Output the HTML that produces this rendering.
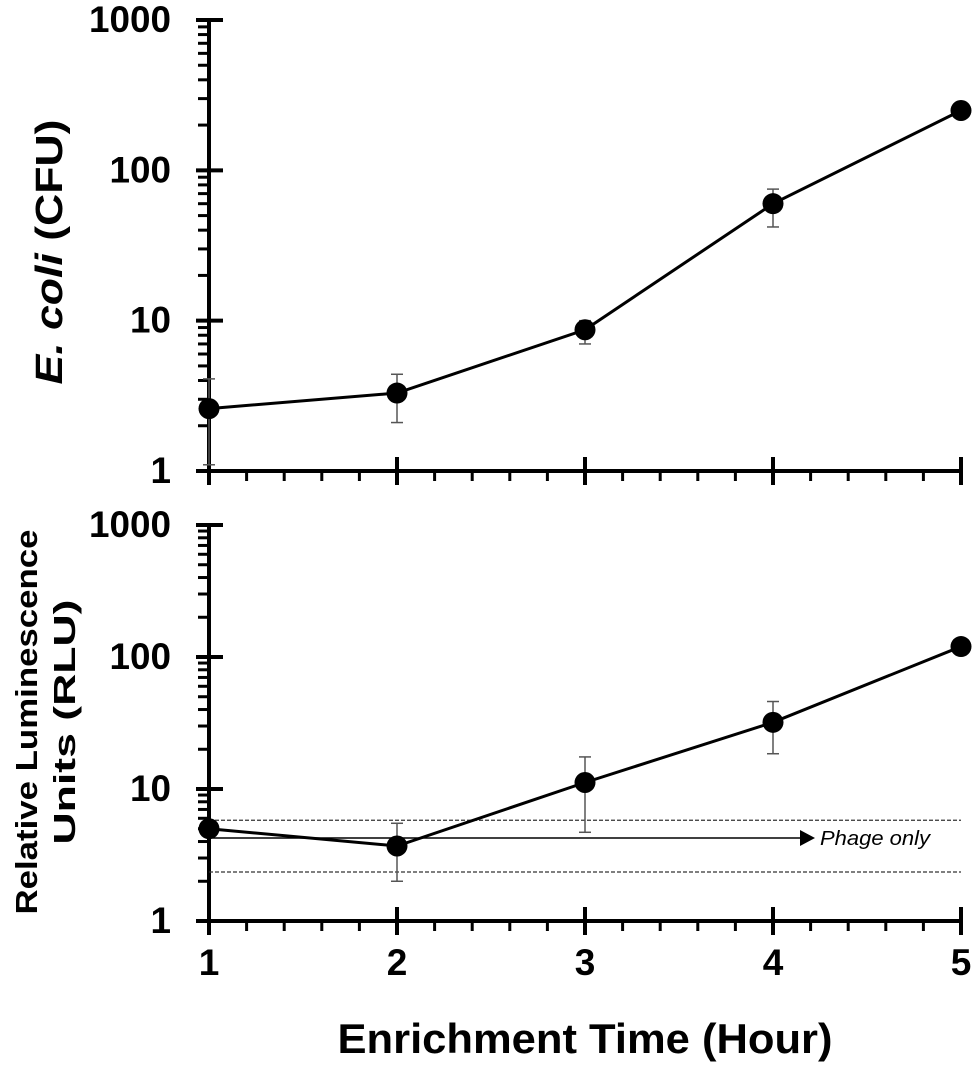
<!DOCTYPE html>
<html><head><meta charset="utf-8"><style>
html,body{margin:0;padding:0;background:#fff;}
svg{display:block;font-family:"Liberation Sans",sans-serif;}
</style></head><body>
<svg id="chart" width="977" height="1065" viewBox="0 0 977 1065" xmlns="http://www.w3.org/2000/svg"></svg>
<script>
const categories = [1, 2, 3, 4, 5];
const ecoliValues = [2.6, 3.3, 8.7, 60, 250];
const ecoliLow = [1.1, 2.1, 7.0, 42, 250];
const ecoliHigh = [4.1, 4.4, 10.0, 75, 250];
const rluValues = [5.0, 3.7, 11.2, 32, 120];
const rluLow = [5.0, 2.0, 4.7, 18.5, 120];
const rluHigh = [5.0, 5.5, 17.5, 46, 120];
const phageMean = [4.25];
const phageBand = [2.35, 5.8];
const yTicks = [1, 10, 100, 1000];
const yTickLabels = ["1", "10", "100", "1000"];
const xTickLabels = ["1", "2", "3", "4", "5"];

const NS = "http://www.w3.org/2000/svg";
const svgEl = document.getElementById('chart');
function mk(tag, attrs, parent) {
  const e = document.createElementNS(NS, tag);
  for (const k in attrs) e.setAttribute(k, attrs[k]);
  (parent || svgEl).appendChild(e);
  return e;
}
const x0 = 209, x1 = 961;
function xs(v) { return x0 + (v - 1) / 4 * (x1 - x0); }
function makeY(bottom, topY) { return v => bottom - Math.log10(v) / 3 * (bottom - topY); }

function panel(name, bottom, topY, showXLabels) {
  const ys = makeY(bottom, topY);
  const g = mk('g', {});
  
  
  const ya = mk('line', {x1: x0, y1: topY - 2, x2: x0, y2: bottom + 14, stroke: '#000', 'stroke-width': 4}, g);
  
  
  const xa = mk('line', {x1: x0 - 13, y1: bottom, x2: x1 + 2, y2: bottom, stroke: '#000', 'stroke-width': 4}, g);
  
  
  yTicks.forEach((t, i) => {
    const y = ys(t);
    mk('line', {x1: x0 - 13, y1: y, x2: x0 + 14, y2: y, stroke: '#000', 'stroke-width': 4}, g);
    const len = yTickLabels[i].length * 20.5;
    const tx = mk('text', {x: 171, y: y + 12, 'text-anchor': 'end', 'font-size': 37, 'font-weight': 'bold', textLength: len, lengthAdjust: 'spacingAndGlyphs'}, g);
    tx.textContent = yTickLabels[i];
    
    
    if (i < yTicks.length - 1) {
      for (let m = 2; m <= 9; m++) {
        const my = ys(t * m);
        mk('line', {x1: x0 - 11, y1: my, x2: x0, y2: my, stroke: '#000', 'stroke-width': 3}, g);
      }
    }
  });
  categories.forEach((c, i) => {
    const x = xs(c);
    mk('line', {x1: x, y1: bottom - 14, x2: x, y2: bottom + 14, stroke: '#000', 'stroke-width': 4}, g);
    if (i < categories.length - 1) {
      for (let m = 1; m <= 4; m++) {
        const mx = x + m * (xs(2) - xs(1)) / 5;
        mk('line', {x1: mx, y1: bottom, x2: mx, y2: bottom + 10, stroke: '#000', 'stroke-width': 3}, g);
      }
    }
    if (showXLabels) {
      const tx = mk('text', {x: x, y: bottom + 54, 'text-anchor': 'middle', 'font-size': 37, 'font-weight': 'bold'}, g);
      tx.textContent = xTickLabels[i];
      
      
    }
  });
  return {g, ys};
}

function series(p, name, vals, lo, hi) {
  const g = p.g, ys = p.ys;
  categories.forEach((c, i) => {
    if (hi[i] !== lo[i]) {
      const x = xs(c);
      mk('line', {x1: x, y1: ys(lo[i]), x2: x, y2: ys(hi[i]), stroke: '#555', 'stroke-width': 1.5}, g);
      mk('line', {x1: x - 6, y1: ys(lo[i]), x2: x + 6, y2: ys(lo[i]), stroke: '#555', 'stroke-width': 1.5}, g);
      mk('line', {x1: x - 6, y1: ys(hi[i]), x2: x + 6, y2: ys(hi[i]), stroke: '#555', 'stroke-width': 1.5}, g);
    }
  });
  const pts = categories.map((c, i) => xs(c) + ',' + ys(vals[i])).join(' ');
  const pl = mk('polyline', {points: pts, fill: 'none', stroke: '#000', 'stroke-width': 3}, g);
  
  
  categories.forEach((c, i) => {
    const pt = mk('circle', {cx: xs(c), cy: ys(vals[i]), r: 10.5, fill: '#000'}, g);
    
    
  });
}

const topPanel = panel('ecoli-panel', 471, 20, false);
series(topPanel, 'ecoli', ecoliValues, ecoliLow, ecoliHigh);

const botPanel = panel('rlu-panel', 921, 525, true);
phageBand.forEach(v => {
  const l = mk('line', {x1: x0, y1: botPanel.ys(v), x2: x1, y2: botPanel.ys(v), stroke: '#333', 'stroke-width': 1.2, 'stroke-dasharray': '4,2'}, botPanel.g);
  
  
});
const pm = botPanel.ys(phageMean[0]);
const pml = mk('line', {x1: x0, y1: pm, x2: 802, y2: pm, stroke: '#000', 'stroke-width': 1.5}, botPanel.g);


const ar = mk('polygon', {points: `800,${pm-8} 815,${pm} 800,${pm+8}`, fill: '#000'}, botPanel.g);


const ptx = mk('text', {x: 820, y: pm + 7, 'font-size': 20, 'font-style': 'italic', textLength: 110, lengthAdjust: 'spacingAndGlyphs'}, botPanel.g);
ptx.textContent = 'Phage only';


series(botPanel, 'rlu', rluValues, rluLow, rluHigh);

const t1 = mk('text', {transform: 'translate(62,252) rotate(-90)', 'text-anchor': 'middle', 'font-size': 38, 'font-weight': 'bold', textLength: 265, lengthAdjust: 'spacingAndGlyphs'});
const ts1 = mk('tspan', {'font-style': 'italic'}, t1);
ts1.textContent = 'E. coli';
const ts2 = mk('tspan', {}, t1);
ts2.textContent = ' (CFU)';


const t2 = mk('text', {transform: 'translate(37,722) rotate(-90)', 'text-anchor': 'middle', 'font-size': 31, 'font-weight': 'bold', textLength: 385, lengthAdjust: 'spacingAndGlyphs'});
t2.textContent = 'Relative Luminescence';


const t3 = mk('text', {transform: 'translate(75,722) rotate(-90)', 'text-anchor': 'middle', 'font-size': 31, 'font-weight': 'bold', textLength: 245, lengthAdjust: 'spacingAndGlyphs'});
t3.textContent = 'Units (RLU)';


const t4 = mk('text', {x: 585, y: 1053, 'text-anchor': 'middle', 'font-size': 42, 'font-weight': 'bold', textLength: 495, lengthAdjust: 'spacingAndGlyphs'});
t4.textContent = 'Enrichment Time (Hour)';


</script>
</body></html>
